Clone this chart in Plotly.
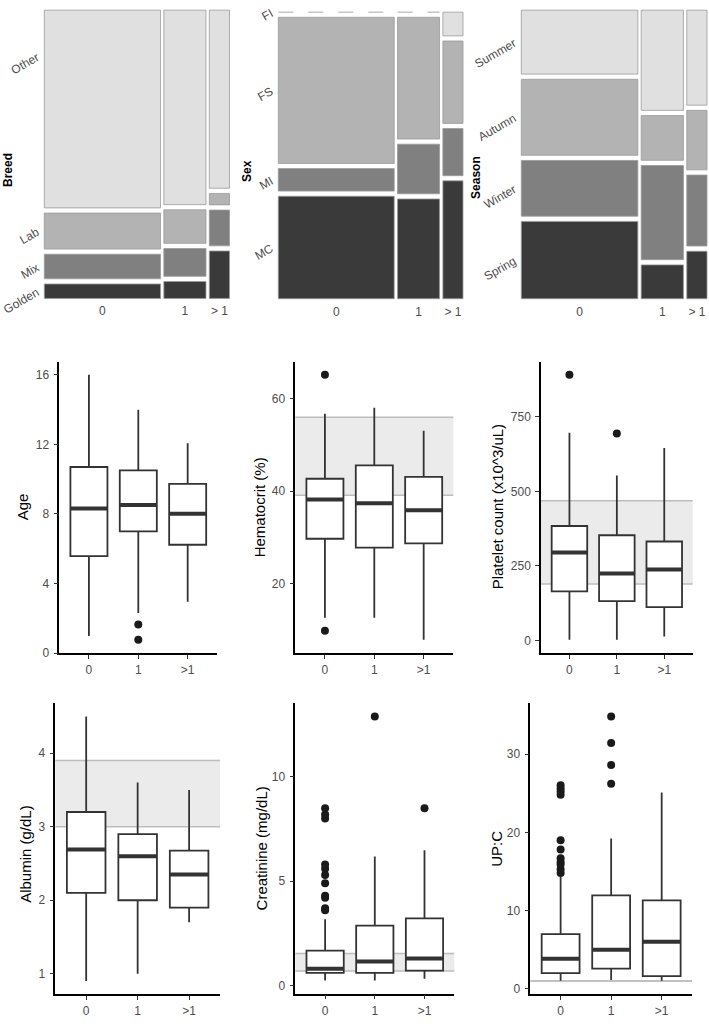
import plotly.graph_objects as go

W, H = 709, 1028
FONT = "Liberation Sans, Arial, sans-serif"

# ---------------- mosaic data (shares) ----------------
groups = ["0", "1", "> 1"]
group_share = [0.651, 0.236, 0.113]

breed_levels = ["Golden", "Mix", "Lab", "Other"]          # bottom -> top
breed_golden = [0.053, 0.062, 0.174]
breed_mix = [0.090, 0.102, 0.131]
breed_lab = [0.132, 0.123, 0.042]
breed_other = [0.725, 0.713, 0.653]

sex_levels = ["MC", "MI", "FS", "FI"]                     # bottom -> top
sex_mc = [0.378, 0.368, 0.435]
sex_mi = [0.083, 0.183, 0.174]
sex_fs = [0.539, 0.449, 0.304]
sex_fi = [0.0, 0.0, 0.0875]

season_levels = ["Spring", "Winter", "Autumn", "Summer"]  # bottom -> top
season_spring = [0.283, 0.124, 0.174]
season_winter = [0.204, 0.345, 0.260]
season_autumn = [0.278, 0.164, 0.218]
season_summer = [0.234, 0.367, 0.348]

# ---------------- box-plot data ----------------
box_groups = ["0", "1", ">1"]

age_q1 = [5.57, 7.0, 6.23]
age_med = [8.31, 8.52, 8.01]
age_q3 = [10.7, 10.51, 9.73]
age_lo = [0.98, 2.31, 2.95]
age_hi = [16.0, 14.0, 12.06]
age_out_grp = [1, 1]
age_out_val = [1.65, 0.76]

hct_q1 = [29.7, 27.8, 28.7]
hct_med = [38.2, 37.4, 35.9]
hct_q3 = [42.7, 45.6, 43.1]
hct_lo = [12.6, 12.6, 7.8]
hct_hi = [56.8, 58.1, 53.1]
hct_out_grp = [0, 0]
hct_out_val = [65.2, 9.8]
hct_ref = [39.1, 56.0]

plt_q1 = [165, 132, 112]
plt_med = [295, 225, 238]
plt_q3 = [384, 353, 332]
plt_lo = [2, 2, 13]
plt_hi = [697, 553, 646]
plt_out_grp = [0, 1]
plt_out_val = [891, 694]
plt_ref = [189, 469]

alb_q1 = [2.10, 2.0, 1.90]
alb_med = [2.69, 2.60, 2.35]
alb_q3 = [3.20, 2.90, 2.675]
alb_lo = [0.90, 1.0, 1.70]
alb_hi = [4.50, 3.60, 3.50]
alb_out_grp = []
alb_out_val = []
alb_ref = [3.0, 3.9]

cre_q1 = [0.60, 0.60, 0.71]
cre_med = [0.80, 1.15, 1.29]
cre_q3 = [1.67, 2.87, 3.22]
cre_lo = [0.24, 0.24, 0.32]
cre_hi = [3.17, 6.18, 6.48]
cre_out_grp = [0, 0, 0, 0, 0, 0, 0, 0, 0, 0, 0, 1, 2]
cre_out_val = [8.5, 8.2, 8.0, 5.8, 5.6, 5.3, 4.9, 4.3, 4.2, 3.7, 3.6, 12.9, 8.5]
cre_ref = [0.69, 1.53]

upc_q1 = [2.01, 2.6, 1.64]
upc_med = [3.86, 4.99, 6.04]
upc_q3 = [7.0, 11.95, 11.3]
upc_lo = [1.05, 1.13, 1.05]
upc_hi = [14.3, 19.2, 25.1]
upc_out_grp = [0, 0, 0, 0, 0, 0, 0, 0, 0, 0, 0, 1, 1, 1, 1]
upc_out_val = [26.0, 25.6, 25.2, 24.8, 19.0, 17.8, 16.7, 16.2, 15.9, 15.3, 14.8,
               34.8, 31.4, 28.6, 26.2]
upc_ref = [1.0, 1.0]

# ---------------- styling ----------------
level_colors = ["#3a3a3a", "#808080", "#b3b3b3", "#e0e0e0"]
GAPX = 0.018
GAPY = 0.018
PAD = 0.01


def xd(a, b):
    return [a / W, b / W]


def yd(top, bottom):
    return [1 - bottom / H, 1 - top / H]


def padded(a, b, pad=PAD):
    span = b - a
    return a - pad * span, b + pad * span


fig = go.Figure()
layout_axes = {}
shapes = []
annotations = []


def mosaic(n, shares, levels, px_box, label_override=None):
    left, top, right, bottom = px_box
    ncol = len(groups)
    nlev = len(levels)
    tot = sum(group_share)
    col_w = [s / tot * (1 - GAPX * (ncol - 1)) for s in group_share]
    col_x0 = []
    acc = 0.0
    for w in col_w:
        col_x0.append(acc)
        acc += w + GAPX
    centers = [x0 + w / 2 for x0, w in zip(col_x0, col_w)]
    content = 1 - GAPY * (nlev - 1)
    label_pos = []
    for j in range(nlev):
        bases, heights = [], []
        for c in range(ncol):
            colsum = sum(shares[k][c] for k in range(nlev))
            below = sum(shares[k][c] for k in range(j)) / colsum
            b = below * content + j * GAPY
            h = shares[j][c] / colsum * content
            bases.append(b)
            heights.append(h if h > 0 else None)
            if c == 0:
                label_pos.append(b + h / 2)
            if h == 0:
                fig.add_trace(go.Scatter(
                    x=[col_x0[c], col_x0[c] + col_w[c]], y=[b, b], mode="lines",
                    line=dict(color="#a8a8a8", width=1, dash="longdash"),
                    xaxis=f"x{n}", yaxis=f"y{n}", showlegend=False, hoverinfo="skip"))
        fig.add_trace(go.Bar(
            x=centers, y=heights, base=bases, width=col_w,
            marker=dict(color=level_colors[j], line=dict(color="#9a9a9a", width=0.8)),
            xaxis=f"x{n}", yaxis=f"y{n}", showlegend=False, hoverinfo="skip"))
    if label_override:
        for j, v in label_override.items():
            label_pos[j] = v
    a, b = padded(left, right)
    t, bt = padded(top, bottom)
    layout_axes[f"xaxis{n}"] = dict(
        domain=xd(a, b), range=[-PAD, 1 + PAD], anchor=f"y{n}",
        tickvals=centers, ticktext=groups, showline=False, showgrid=False,
        zeroline=False, ticks="", ticklabelstandoff=1,
        tickfont=dict(size=12, color="#4d4d4d", family=FONT), fixedrange=True)
    layout_axes[f"yaxis{n}"] = dict(
        domain=yd(t, bt), range=[-PAD, 1 + PAD], anchor=f"x{n}",
        tickvals=label_pos, ticktext=levels, tickangle=-30, showline=False,
        showgrid=False, zeroline=False, ticks="outside", ticklen=2,
        tickcolor="rgba(0,0,0,0)",
        tickfont=dict(size=12, color="#4d4d4d", family=FONT), fixedrange=True)


mosaic(1, [breed_golden, breed_mix, breed_lab, breed_other], breed_levels,
       (44.3, 7.3, 229.5, 300.7), label_override={3: 0.84})
mosaic(2, [sex_mc, sex_mi, sex_fs, sex_fi], sex_levels, (278.3, 9.3, 463, 301))
mosaic(3, [season_spring, season_winter, season_autumn, season_summer],
       season_levels, (521.3, 7.3, 707, 301))

for txt, x, y in [("Breed", 8, 170), ("Sex", 247, 171), ("Season", 476, 177)]:
    annotations.append(dict(text=f"<b>{txt}</b>", x=x / W, y=1 - y / H, xref="paper",
                            yref="paper", showarrow=False, textangle=-90,
                            xanchor="center", yanchor="middle",
                            font=dict(size=12, color="black", family=FONT)))


def boxpanel(n, q1, med, q3, lo, hi, out_grp, out_val, ref, tickvals, title,
             px_box, title_x, title_y=None):
    left, top, right, bottom = px_box
    xs = list(range(1, len(box_groups) + 1))
    bw = 0.75
    fig.add_trace(go.Box(
        x=xs, q1=q1, median=med, q3=q3, lowerfence=lo, upperfence=hi,
        width=bw, whiskerwidth=0, fillcolor="white", boxpoints=False,
        line=dict(color="#333333", width=1.8),
        xaxis=f"x{n}", yaxis=f"y{n}", showlegend=False, hoverinfo="skip"))
    mx, my = [], []
    for x, m in zip(xs, med):
        mx += [x - bw / 2, x + bw / 2, None]
        my += [m, m, None]
    fig.add_trace(go.Scatter(x=mx, y=my, mode="lines",
                             line=dict(color="#333333", width=4),
                             xaxis=f"x{n}", yaxis=f"y{n}", showlegend=False,
                             hoverinfo="skip"))
    if out_val:
        fig.add_trace(go.Scatter(
            x=[xs[g] for g in out_grp], y=out_val, mode="markers",
            marker=dict(color="#1a1a1a", size=8),
            xaxis=f"x{n}", yaxis=f"y{n}", showlegend=False, hoverinfo="skip"))
    vals = list(lo) + list(hi) + list(out_val)
    if ref:
        vals += list(ref)
        shapes.append(dict(type="rect", xref=f"x{n} domain", yref=f"y{n}",
                           x0=0, x1=1, y0=ref[0], y1=ref[1], fillcolor="#ebebeb",
                           line=dict(width=0), layer="below"))
        for v in ref:
            shapes.append(dict(type="line", xref=f"x{n} domain", yref=f"y{n}",
                               x0=0, x1=1, y0=v, y1=v,
                               line=dict(color="#bdbdbd", width=1.5), layer="below"))
    vmin, vmax = min(vals), max(vals)
    ex = 0.05 * (vmax - vmin)
    axis_common = dict(showline=True, linecolor="black", linewidth=1.5,
                       ticks="outside", ticklen=4, tickwidth=1.2, tickcolor="#333333",
                       tickfont=dict(size=12, color="#4d4d4d", family=FONT),
                       showgrid=False, zeroline=False, fixedrange=True)
    layout_axes[f"xaxis{n}"] = dict(domain=xd(left, right), range=[0.4, 3.6],
                                    anchor=f"y{n}", tickvals=xs, ticktext=box_groups,
                                    ticklabelstandoff=1, **axis_common)
    layout_axes[f"yaxis{n}"] = dict(domain=yd(top, bottom), range=[vmin - ex, vmax + ex],
                                    anchor=f"x{n}", tickvals=tickvals,
                                    ticklabelstandoff=2, **axis_common)
    ty = title_y if title_y is not None else (top + bottom) / 2
    annotations.append(dict(text=title, x=title_x / W, y=1 - ty / H,
                            xref="paper", yref="paper", showarrow=False,
                            textangle=-90, xanchor="center", yanchor="middle",
                            font=dict(size=15, color="black", family=FONT)))


boxpanel(4, age_q1, age_med, age_q3, age_lo, age_hi, age_out_grp, age_out_val, None,
         [0, 4, 8, 12, 16], "Age", (59.3, 365, 217.3, 661.7), 22)
boxpanel(5, hct_q1, hct_med, hct_q3, hct_lo, hct_hi, hct_out_grp, hct_out_val, hct_ref,
         [20, 40, 60], "Hematocrit (%)", (295.3, 365, 453.3, 661.7), 259)
boxpanel(6, plt_q1, plt_med, plt_q3, plt_lo, plt_hi, plt_out_grp, plt_out_val, plt_ref,
         [0, 250, 500, 750], "Platelet count (x10^3/uL)", (541, 365, 692.7, 661.7), 497)
boxpanel(7, alb_q1, alb_med, alb_q3, alb_lo, alb_hi, alb_out_grp, alb_out_val, alb_ref,
         [1, 2, 3, 4], "Albumin (g/dL)", (55.3, 712.7, 220, 1009), 26, 866)
boxpanel(8, cre_q1, cre_med, cre_q3, cre_lo, cre_hi, cre_out_grp, cre_out_val, cre_ref,
         [0, 5, 10], "Creatinine (mg/dL)", (295.3, 712.7, 454.3, 1008.3), 261)
boxpanel(9, upc_q1, upc_med, upc_q3, upc_lo, upc_hi, upc_out_grp, upc_out_val, upc_ref,
         [0, 10, 20, 30], "UP:C", (530.3, 712.7, 692, 1009), 497)

# first axes use plain names
layout_axes["xaxis"] = layout_axes.pop("xaxis1")
layout_axes["yaxis"] = layout_axes.pop("yaxis1")
for tr in fig.data:
    if tr.xaxis == "x1":
        tr.xaxis = "x"
    if tr.yaxis == "y1":
        tr.yaxis = "y"

fig.update_layout(
    width=W, height=H, margin=dict(l=0, r=0, t=0, b=0),
    paper_bgcolor="white", plot_bgcolor="white", barmode="overlay",
    font=dict(family=FONT), shapes=shapes, annotations=annotations,
    **layout_axes)

fig.write_html("out.html", config={"displayModeBar": False},
               post_script="document.body.style.margin='0';"
                           "document.body.style.overflow='hidden';")
